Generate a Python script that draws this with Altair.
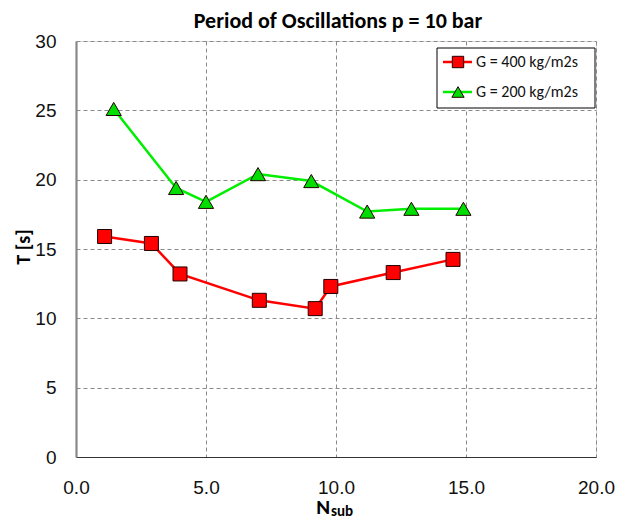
import altair as alt
import pandas as pd

# Period of oscillations against number of sub-channels, p = 10 bar
series_names = ["G = 400 kg/m2s", "G = 200 kg/m2s"]
series_colors = ["#ff0000", "#00ee00"]
series_fills = ["#ff0000", "#00dd00"]
series_shapes = ["square", "triangle-up"]

n_sub_400 = [1.1, 2.9, 4.0, 7.05, 9.2, 9.8, 12.2, 14.5]
t_400 = [15.9, 15.4, 13.2, 11.3, 10.7, 12.3, 13.3, 14.25]

n_sub_200 = [1.45, 3.85, 5.0, 7.0, 9.05, 11.2, 12.9, 14.9]
t_200 = [25.1, 19.4, 18.4, 20.4, 19.9, 17.7, 17.9, 17.9]

x_ticks = [0, 5, 10, 15, 20]
y_ticks = [0, 5, 10, 15, 20, 25, 30]

df = pd.concat([
    pd.DataFrame({"series": series_names[0], "N": n_sub_400, "T": t_400, "order": range(len(t_400))}),
    pd.DataFrame({"series": series_names[1], "N": n_sub_200, "T": t_200, "order": range(len(t_200))}),
])

# single-row source for annotation marks (legend, titles)
one = pd.DataFrame({"k": [0]})

FONT = "Carlito, Lato, sans-serif"
W, H = 520, 416

x_enc = alt.X("N:Q", scale=alt.Scale(domain=[0, 20], nice=False),
              axis=alt.Axis(values=x_ticks, format=".1f", title=None, ticks=False,
                            labelFontSize=19, labelPadding=21, labelColor="#111", labelFlush=False,
                            domainColor="#333", domainWidth=1.2,
                            grid=True, gridDash=[4, 3], gridColor="#8a8a8a", gridWidth=1))
y_enc = alt.Y("T:Q", scale=alt.Scale(domain=[0, 30], nice=False),
              axis=alt.Axis(values=y_ticks, title=None, ticks=False,
                            labelFontSize=19, labelPadding=20, labelColor="#111", labelFlush=False,
                            domainColor="#888", domainWidth=2.2,
                            grid=True, gridDash=[4, 3], gridColor="#8a8a8a", gridWidth=1))

lines = alt.Chart(df).mark_line(strokeWidth=2.5).encode(
    x=x_enc, y=y_enc, order="order:Q",
    color=alt.Color("series:N", scale=alt.Scale(domain=series_names, range=series_colors), legend=None),
    detail="series:N",
)

points = alt.Chart(df).mark_point(filled=True, stroke="#200000", strokeWidth=1, opacity=1).encode(
    x="N:Q", y="T:Q",
    fill=alt.Fill("series:N", scale=alt.Scale(domain=series_names, range=series_fills), legend=None),
    shape=alt.Shape("series:N", scale=alt.Scale(domain=series_names, range=series_shapes), legend=None),
    size=alt.Size("series:N", scale=alt.Scale(domain=series_names, range=[196, 230]), legend=None),
)

# Legend box in the top-right corner of the plot
lx0, lx1, ly0, ly1 = 361, 519, 7, 67
legend_layers = [
    alt.Chart(one).mark_rect(fill="white", stroke="black", strokeWidth=1).encode(
        x=alt.value(lx0), x2=alt.value(lx1), y=alt.value(ly0), y2=alt.value(ly1)),
]
for i, (name, col, fill, shp, sz) in enumerate(zip(series_names, series_colors, series_fills,
                                                   series_shapes, [130, 150])):
    ry = 21 + 30 * i
    legend_layers.append(alt.Chart(one).mark_rule(color=col, strokeWidth=2.5).encode(
        x=alt.value(367), x2=alt.value(396), y=alt.value(ry)))
    legend_layers.append(alt.Chart(one).mark_point(shape=shp, filled=True, fill=fill, stroke="#200000",
                                                   strokeWidth=1, opacity=1, size=sz).encode(
        x=alt.value(382), y=alt.value(ry)))
    legend_layers.append(alt.Chart(one).mark_text(text=name, align="left", baseline="middle",
                                                  font=FONT, fontSize=16, fontWeight="normal",
                                                  color="#111").encode(
        x=alt.value(400), y=alt.value(ry)))

# Chart title and axis titles ("T [s]" and N with subscript "sub")
title = alt.Chart(one).mark_text(text="Period of Oscillations p = 10 bar", align="center",
                                 baseline="alphabetic", font=FONT, fontSize=22, fontWeight="bold",
                                 color="#000").encode(
    x=alt.value(W / 2 + 2), y=alt.value(-13))
y_title = alt.Chart(one).mark_text(text="T [s]", angle=270, align="center", baseline="middle",
                                   font=FONT, fontSize=20, fontWeight="bold", color="#000").encode(
    x=alt.value(-52), y=alt.value(H / 2 - 2))
x_title_n = alt.Chart(one).mark_text(text="N", align="right", baseline="alphabetic",
                                     font=FONT, fontSize=21, fontWeight="bold", color="#000").encode(
    x=alt.value(254), y=alt.value(473))
x_title_sub = alt.Chart(one).mark_text(text="sub", align="left", baseline="alphabetic",
                                       font=FONT, fontSize=15, fontWeight="bold", color="#000").encode(
    x=alt.value(255), y=alt.value(475))

chart = alt.layer(
    lines, points, *legend_layers, title, y_title, x_title_n, x_title_sub
).properties(
    width=W, height=H,
    autosize=alt.AutoSizeParams(type="none"),
    padding={"left": 76, "top": 41, "right": 30, "bottom": 63},
).configure_view(stroke=None).configure_axis(labelFont=FONT).configure(background="white")

chart.save("out.html", embed_options={"renderer": "svg", "actions": False})
